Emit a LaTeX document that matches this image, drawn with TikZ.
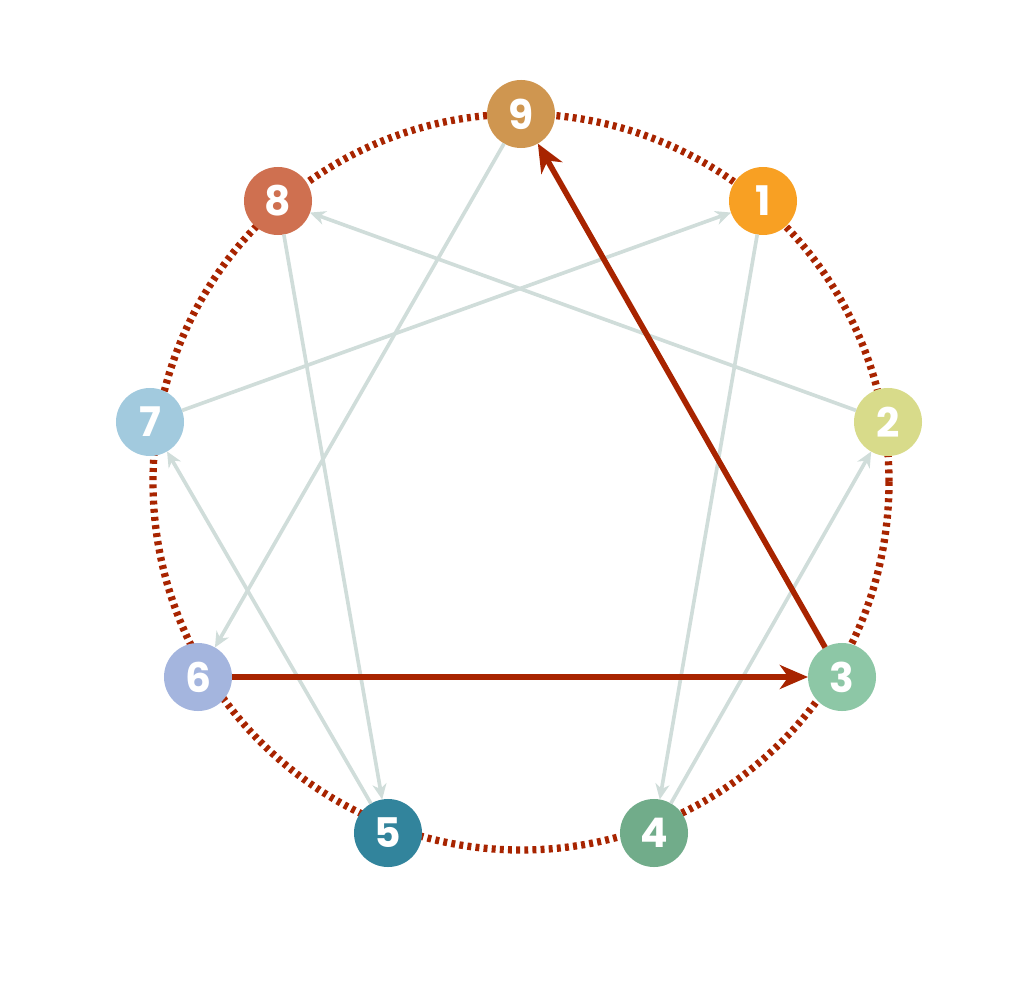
\documentclass[tikz,border=0pt]{standalone}
\usepackage{fontspec}
\newfontfamily\digitfont{Poppins}
\usetikzlibrary{arrows.meta}

\definecolor{ringred}{HTML}{A82400}
\definecolor{linegrey}{HTML}{D0DDDA}
\definecolor{typenine}{HTML}{CF9650}
\definecolor{typeone}{HTML}{F8A023}
\definecolor{typetwo}{HTML}{D8DB8A}
\definecolor{typethree}{HTML}{8DC7A6}
\definecolor{typefour}{HTML}{71AC8A}
\definecolor{typefive}{HTML}{32849C}
\definecolor{typesix}{HTML}{A4B5DE}
\definecolor{typeseven}{HTML}{A2CADE}
\definecolor{typeeight}{HTML}{CF7050}

\begin{document}
\begin{tikzpicture}[x=0.025cm,y=-0.025cm,
    point/.style={circle,minimum size=1.7cm,inner sep=0pt,outer sep=0pt,text=white,
        font=\digitfont\bfseries\fontsize{29}{29}\selectfont},
    ring/.style={draw=ringred,line width=5.2pt,dash pattern=on 2.8pt off 3pt},
    thin arrow/.style={draw=linegrey,line width=2.6pt,-{Stealth[length=11pt,width=10pt,inset=3.5pt]}},
    thick arrow/.style={draw=ringred,line width=4pt,-{Stealth[length=20pt,width=17pt,inset=6pt]}}]
    \useasboundingbox (0,0) rectangle (1024,990);
    % ring
    \coordinate (centre) at (521,482);
    \draw [ring] (centre) circle [radius=368];
    % types
    \node[point,fill=typenine] (t9) at (521,114) {9};
    \node[point,fill=typeone] (t1) at (763,201) {1};
    \node[point,fill=typetwo] (t2) at (888,422) {2};
    \node[point,fill=typethree] (t3) at (842,677) {3};
    \node[point,fill=typefour] (t4) at (654,833) {4};
    \node[point,fill=typefive] (t5) at (388,833) {5};
    \node[point,fill=typesix] (t6) at (198,677) {6};
    \node[point,fill=typeseven] (t7) at (150,422) {7};
    \node[point,fill=typeeight] (t8) at (278,201) {8};
    % hexad
    \draw [thin arrow] (t1) -- (t4);
    \draw [thin arrow] (t4) -- (t2);
    \draw [thin arrow] (t2) -- (t8);
    \draw [thin arrow] (t8) -- (t5);
    \draw [thin arrow] (t5) -- (t7);
    \draw [thin arrow] (t7) -- (t1);
    % triangle
    \draw [thin arrow] (t9) -- (t6);
    \draw [thick arrow] (t6) -- (t3);
    \draw [thick arrow] (t3) -- (t9);
\end{tikzpicture}
\end{document}
